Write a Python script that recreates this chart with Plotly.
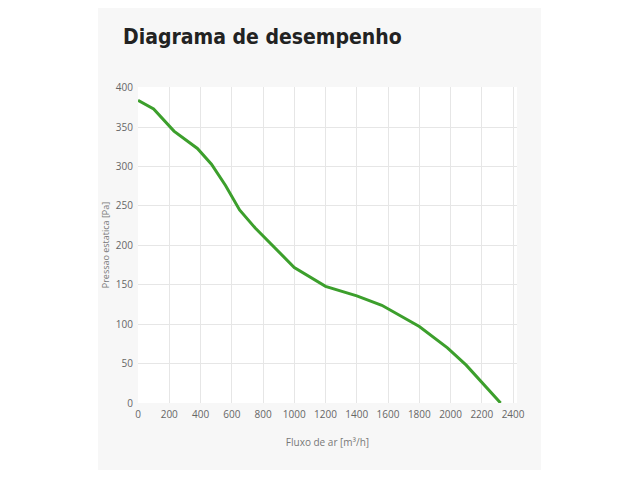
import plotly.graph_objects as go

flow = [0, 100, 230, 380, 470, 560, 650, 750, 1000, 1200, 1400, 1560, 1800, 1980, 2100, 2320]
pressure = [384, 373, 345, 323, 303, 276, 245, 222, 172, 148, 136, 124, 97, 70, 48, 0]

x_ticks = list(range(0, 2401, 200))
y_ticks = list(range(0, 401, 50))

title_text = "Diagrama de desempenho"
x_title = "Fluxo de ar [m³/h]"
y_title = "Pressao estatica [Pa]"

fig = go.Figure()
fig.add_trace(go.Scatter(
    x=flow, y=pressure, mode="lines",
    line=dict(color="#3c9f2c", width=3),
    hoverinfo="x+y", showlegend=False,
))

W, H = 640, 480
L, R, T, B = 138, 123, 87, 77

fig.update_layout(
    width=W, height=H,
    margin=dict(l=L, r=R, t=T, b=B),
    paper_bgcolor="white",
    plot_bgcolor="white",
    font=dict(family="Open Sans, sans-serif", color="#666", size=10),
    shapes=[
        dict(
            type="rect", xref="paper", yref="paper", layer="below",
            x0=(98 - L) / (W - L - R), x1=(541 - L) / (W - L - R),
            y0=(H - B - 470) / (H - T - B), y1=(H - B - 8) / (H - T - B),
            fillcolor="#f7f7f7", line=dict(width=0),
        ),
        dict(
            type="rect", xref="paper", yref="paper", layer="below",
            x0=0, x1=1, y0=0, y1=1,
            fillcolor="white", line=dict(width=0),
        ),
    ],
    annotations=[dict(
        text=f"<b>{title_text}</b>", xref="paper", yref="paper",
        x=(121 - L) / (W - L - R), y=(H - B - 37) / (H - T - B),
        xanchor="left", yanchor="middle", showarrow=False,
        font=dict(family="DejaVu Sans Condensed, Liberation Sans Narrow, sans-serif", size=21, color="#222"),
    )],
    xaxis=dict(
        range=[0, 2425], tickvals=x_ticks, ticktext=[str(v) for v in x_ticks],
        showgrid=True, gridcolor="#e6e6e6", gridwidth=1,
        zeroline=False, showline=False,
        ticks="", ticklabelstandoff=4,
        tickfont=dict(size=10, color="#666"),
        title=dict(text=x_title, font=dict(size=10, color="#777"), standoff=18),
    ),
    yaxis=dict(
        range=[0, 401], tickvals=y_ticks, ticktext=[str(v) for v in y_ticks],
        showgrid=True, gridcolor="#e6e6e6", gridwidth=1,
        zeroline=False, showline=False,
        ticks="", ticklabelstandoff=4,
        tickfont=dict(size=10, color="#666"),
        title=dict(text=y_title, font=dict(size=9, color="#777"), standoff=4),
    ),
)

fig.write_html("out.html")
